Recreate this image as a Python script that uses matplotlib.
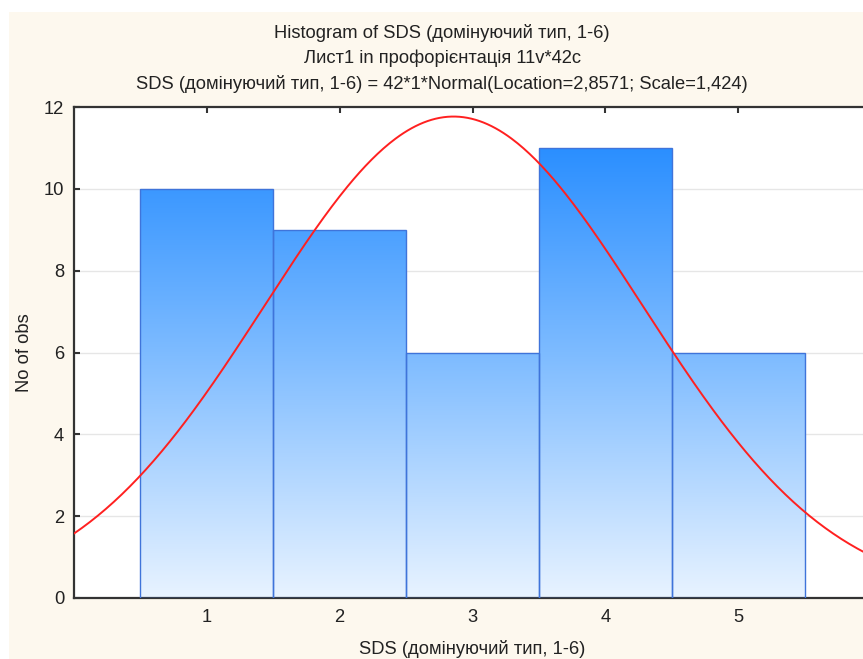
import numpy as np
import matplotlib
matplotlib.use("Agg")
import matplotlib.pyplot as plt
from matplotlib.patches import Rectangle
from matplotlib.colors import LinearSegmentedColormap

# ---- data ----
categories = [1, 2, 3, 4, 5]
counts = [10, 9, 6, 11, 6]
n_obs = 42
bin_width = 1
location = 2.8571
scale = 1.424
y_ticks = [0, 2, 4, 6, 8, 10, 12]
x_ticks = [1, 2, 3, 4, 5]

title_lines = [
    "Histogram of SDS (домінуючий тип, 1-6)",
    "Лист1 in профорієнтація 11v*42c",
    "SDS (домінуючий тип, 1-6) = 42*1*Normal(Location=2,8571; Scale=1,424)",
]
x_label = "SDS (домінуючий тип, 1-6)"
y_label = "No of obs"

plt.rcParams['font.family'] = ['Liberation Sans', 'DejaVu Sans']

W, H = 863, 659
FS = 13.2
fig = plt.figure(figsize=(W / 100, H / 100), dpi=100, facecolor="white")

# cream panel background
fig.patches.append(Rectangle((9 / W, 0), 1 - 9 / W, (H - 12) / H,
                             transform=fig.transFigure, facecolor="#FDF8EE",
                             edgecolor="none", zorder=-10))

ax_left, ax_right = 73.8, 871.3
ax_top, ax_bot = 107, 598
ax = fig.add_axes([ax_left / W, (H - ax_bot) / H, (ax_right - ax_left) / W,
                   (ax_bot - ax_top) / H])
ax.set_zorder(2)
ax.set_facecolor("white")
ax.set_xlim(0, 6)
ax.set_ylim(0, 12)

# grid
for yt in y_ticks[1:-1]:
    ax.axhline(yt, color="#E6E6E6", lw=1.0, zorder=1)

# gradient bars
cmap = LinearSegmentedColormap.from_list("g", ["#E8F3FF", "#7DBBFF", "#1A86FF"])
grad = np.linspace(0, 1, 256).reshape(-1, 1)
for c, h in zip(categories, counts):
    x0 = c - bin_width / 2
    rect = Rectangle((x0, 0), bin_width, h, facecolor="none",
                     edgecolor="#3F74DA", lw=1.0, zorder=3)
    ax.add_patch(rect)
    frac = h / 12.0
    sub = grad[: max(2, int(round(frac * 255)) + 1)]
    im = ax.imshow(sub, extent=[x0, x0 + bin_width, 0, h], origin="lower",
                   cmap=cmap, vmin=0, vmax=1, aspect="auto", zorder=2,
                   interpolation="bilinear")
    im.set_clip_path(rect)

ax.set_xlim(0, 6)
ax.set_ylim(0, 12)

# normal curve
xs = np.linspace(0, 6, 400)
ys = n_obs * bin_width / (scale * np.sqrt(2 * np.pi)) * np.exp(-0.5 * ((xs - location) / scale) ** 2)
ax.plot(xs, ys, color="#FF2020", lw=1.4, zorder=4, clip_on=True)

# spines / ticks
for s in ["left", "bottom", "top"]:
    ax.spines[s].set_color("#333333")
    ax.spines[s].set_linewidth(1.6)
ax.spines["right"].set_visible(False)
ax.set_xticks(x_ticks)
ax.set_yticks(y_ticks)
ax.tick_params(direction="in", length=4, width=1.5, color="#333333",
               labelsize=FS, labelcolor="#222222", top=True, pad=8)
ax.tick_params(axis="y", pad=7)

ax.set_xlabel(x_label, fontsize=FS, color="#222222", labelpad=10)
ax.set_ylabel(y_label, fontsize=FS, color="#222222", labelpad=8)

for i, line in enumerate(title_lines):
    fig.text(442 / W, 1 - (33 + 25.5 * i) / H, line, ha="center", va="center",
             fontsize=FS, color="#222222")

fig.savefig("out.png", dpi=100, facecolor=fig.get_facecolor())
